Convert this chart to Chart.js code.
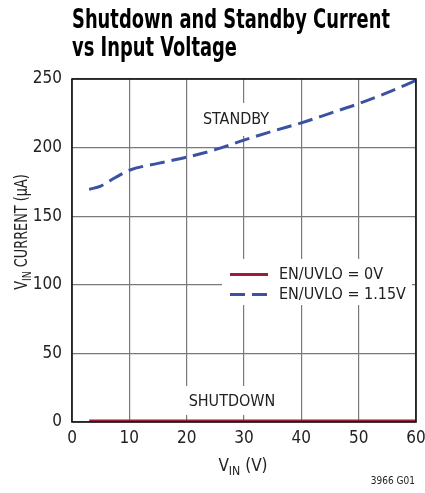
<!DOCTYPE html>
<html>
<head>
<meta charset="utf-8">
<script src="https://cdn.jsdelivr.net/npm/chart.js@4"></script>
<style>
  html, body { margin: 0; padding: 0; background: #fff; }
  #wrap { width: 425px; height: 493px; position: relative; }
</style>
</head>
<body>
<div id="wrap"><canvas id="chart" width="425" height="493"></canvas></div>
<script>
const vin = [3, 5, 7.5, 10, 15, 20, 25, 30, 35, 40, 45, 50, 55, 60];
const standby = [169.5, 172, 178, 183.5, 188.5, 193, 198.5, 205.5, 212, 218, 225, 232, 240, 249];
const shutdown = [0.8, 0.8, 0.8, 0.8, 0.8, 0.8, 0.8, 0.8, 0.8, 0.8, 0.8, 0.8, 0.8, 0.8];
const xTicks = [0, 10, 20, 30, 40, 50, 60];
const yTicks = [0, 50, 100, 150, 200, 250];
const legendLabels = ["EN/UVLO = 0V", "EN/UVLO = 1.15V"];

const FONT = "'Liberation Sans Narrow', 'DejaVu Sans Condensed', 'Roboto Condensed', 'Liberation Sans', Arial, sans-serif";
const RED = "#9a1d3c";
const BLUE = "#3b52a3";

const ctx = document.getElementById("chart").getContext("2d");

function toPoints(xs, ys) {
    return xs.map((x, i) => ({ x: x, y: ys[i] }));
}

// text squeezed to a given width, left aligned
function fitText(c, txt, x, y, width) {
    const w = c.measureText(txt).width;
    c.save();
    c.translate(x, y);
    c.scale(width / w, 1);
    c.textAlign = "left";
    c.fillText(txt, 0, 0);
    c.restore();
}

// main + subscript + rest, centered at x, squeezed by sx
function subText(c, main, sub, rest, x, y, size, sx) {
    c.font = size + "px " + FONT;
    const w1 = c.measureText(main).width;
    c.font = (size * 0.72) + "px " + FONT;
    const w2 = c.measureText(sub).width;
    c.font = size + "px " + FONT;
    const w3 = c.measureText(rest).width;
    c.save();
    c.translate(x, y);
    c.scale(sx, 1);
    let px = -(w1 + w2 + w3) / 2;
    c.textAlign = "left";
    c.textBaseline = "alphabetic";
    c.fillText(main, px, 0);
    c.font = (size * 0.72) + "px " + FONT;
    c.fillText(sub, px + w1, size * 0.22);
    c.font = size + "px " + FONT;
    c.fillText(rest, px + w1 + w2, 0);
    c.restore();
}

const decor = {
    id: "decor",
    beforeDatasetsDraw(chart) {
        const c = chart.ctx;
        c.save();
        c.fillStyle = "#fff";
        c.fillRect(196, 103, 80, 33);   // STANDBY label
        c.fillRect(184, 386, 97, 29);   // SHUTDOWN label
        c.fillRect(222, 259, 190, 46);  // legend
        c.restore();
    },
    afterDraw(chart) {
        const c = chart.ctx;
        const a = chart.chartArea;
        c.save();
        // frame
        c.strokeStyle = "#111";
        c.lineWidth = 1.6;
        c.strokeRect(a.left, a.top, a.right - a.left, a.bottom - a.top);

        // title
        c.fillStyle = "#000";
        c.font = "bold 26px " + FONT;
        c.textBaseline = "alphabetic";
        fitText(c, "Shutdown and Standby Current", 72, 28, 318);
        fitText(c, "vs Input Voltage", 72, 56, 165);

        // labels in plot
        c.fillStyle = "#222";
        c.font = "16px " + FONT;
        c.textAlign = "center";
        c.textBaseline = "middle";
        c.fillText("STANDBY", 236, 120);
        c.fillText("SHUTDOWN", 232, 402);

        // legend
        c.lineWidth = 3;
        c.strokeStyle = RED;
        c.beginPath();
        c.moveTo(230, 274.5);
        c.lineTo(268, 274.5);
        c.stroke();
        c.strokeStyle = BLUE;
        c.setLineDash([15, 7]);
        c.beginPath();
        c.moveTo(230, 294.5);
        c.lineTo(268, 294.5);
        c.stroke();
        c.setLineDash([]);
        c.fillStyle = "#222";
        c.font = "16px " + FONT;
        c.textAlign = "left";
        c.textBaseline = "middle";
        c.fillText(legendLabels[0], 279, 275);
        c.fillText(legendLabels[1], 279, 295);

        // axis titles
        c.fillStyle = "#222";
        subText(c, "V", "IN", " (V)", 243, 471, 17, 1);
        c.save();
        c.translate(27, 232);
        c.rotate(-Math.PI / 2);
        subText(c, "V", "IN", " CURRENT (\u00b5A)", 0, 0, 17, 0.84);
        c.restore();

        // figure id
        c.font = "10px " + FONT;
        c.textAlign = "right";
        c.textBaseline = "middle";
        c.fillText("3966 G01", 415, 481);
        c.restore();
    }
};

new Chart(ctx, {
    type: "line",
    data: {
        datasets: [
            {
                label: legendLabels[0],
                data: toPoints(vin, shutdown),
                borderColor: RED,
                borderWidth: 3,
                pointRadius: 0,
                tension: 0
            },
            {
                label: legendLabels[1],
                data: toPoints(vin, standby),
                borderColor: BLUE,
                borderWidth: 3,
                borderDash: [15, 7],
                pointRadius: 0,
                tension: 0.3,
                cubicInterpolationMode: "monotone"
            }
        ]
    },
    options: {
        responsive: false,
        animation: false,
        layout: { padding: { top: 79, right: 9, left: 0, bottom: 0 } },
        plugins: {
            legend: { display: false },
            title: { display: false },
            tooltip: { enabled: false }
        },
        scales: {
            x: {
                type: "linear",
                min: 0,
                max: 60,
                afterBuildTicks: (s) => { s.ticks = xTicks.map(v => ({ value: v })); },
                afterFit: (s) => { s.height = 71; s.paddingLeft = 0; s.paddingRight = 0; },
                grid: { color: "#7a7a7a", lineWidth: 1.2, drawTicks: false },
                border: { display: false },
                ticks: { color: "#222", padding: 6, font: { family: FONT, size: 17 } }
            },
            y: {
                min: 0,
                max: 250,
                afterBuildTicks: (s) => { s.ticks = yTicks.map(v => ({ value: v })); },
                afterFit: (s) => { s.width = 72; s.paddingTop = 0; s.paddingBottom = 0; },
                grid: { color: "#7a7a7a", lineWidth: 1.2, drawTicks: false },
                border: { display: false },
                ticks: { color: "#222", padding: 10, font: { family: FONT, size: 17 } }
            }
        }
    },
    plugins: [decor]
});
</script>
</body>
</html>
